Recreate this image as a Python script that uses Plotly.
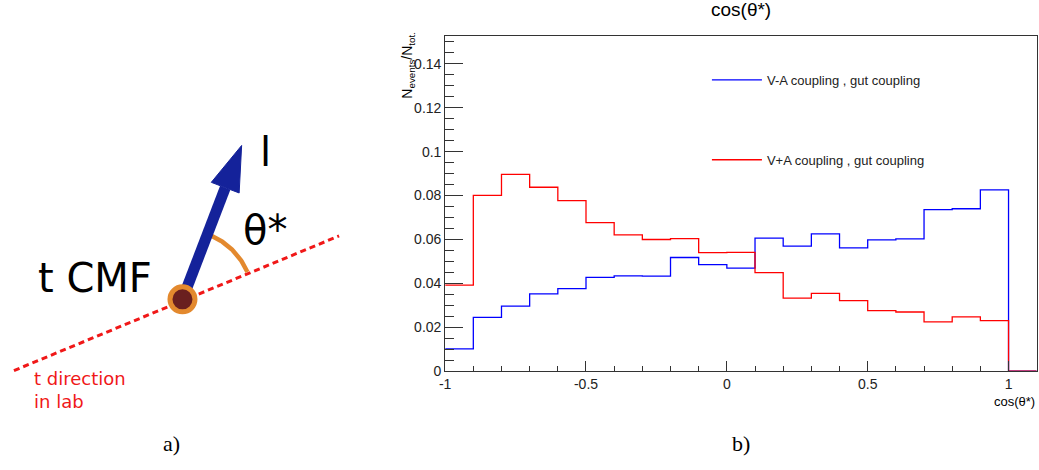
import numpy as np
import plotly.graph_objects as go

# ---------------- histogram data ----------------
bin_edges = [-1.0, -0.9, -0.8, -0.7, -0.6, -0.5, -0.4, -0.3, -0.2, -0.1, 0.0,
             0.1, 0.2, 0.3, 0.4, 0.5, 0.6, 0.7, 0.8, 0.9, 1.0, 1.1]
va_values = [0.0102, 0.0245, 0.0297, 0.0352, 0.0376, 0.0428, 0.0434, 0.0433, 0.0518, 0.0486,
             0.0470, 0.0606, 0.0570, 0.0626, 0.0562, 0.0598, 0.0603, 0.0736, 0.0740, 0.0826, 0.0]
vpa_values = [0.0392, 0.0801, 0.0897, 0.0838, 0.0777, 0.0677, 0.0621, 0.0600, 0.0604, 0.0540,
              0.0541, 0.0449, 0.0333, 0.0355, 0.0322, 0.0276, 0.0270, 0.0225, 0.0248, 0.0231, 0.0]
series_names = ["V-A coupling , gut coupling", "V+A coupling , gut coupling"]
x_tick_vals = [-1, -0.5, 0, 0.5, 1]
x_tick_text = ["-1", "-0.5", "0", "0.5", "1"]
y_tick_vals = [0, 0.02, 0.04, 0.06, 0.08, 0.10, 0.12, 0.14]
y_tick_text = ["0", "0.02", "0.04", "0.06", "0.08", "0.1", "0.12", "0.14"]

# ---------------- diagram (a) geometry, in picture pixels ----------------
lab_line_x = [8, 335]
lab_line_y = [377, 240]
cmf_point = (177.5, 304.5)
arrow_shaft_x = [177.5, 220.5]
arrow_shaft_y = [304.5, 191.0]
arrow_head_x = [237.0, 206.5, 234.5, 237.0]
arrow_head_y = [148.0, 185.5, 196.3, 148.0]
arc_radius = 71
arc_angles_deg = (23, 67)

W, H = 1039, 470
FONT = "Liberation Sans"
DIAG_FONT = "DejaVu Sans"

fig = go.Figure()

# histogram steps
step_x = bin_edges
fig.add_trace(go.Scatter(
    x=step_x, y=va_values + [va_values[-1]], mode="lines", line_shape="hv",
    line=dict(color="#0000ff", width=1.3), name=series_names[0],
    legendgroup="a", xaxis="x", yaxis="y"))
fig.add_trace(go.Scatter(
    x=step_x, y=vpa_values + [vpa_values[-1]], mode="lines", line_shape="hv",
    line=dict(color="#ff0000", width=1.3), name=series_names[1],
    legendgroup="b", xaxis="x", yaxis="y"))

# diagram traces on pixel axes x2/y2
fig.add_trace(go.Scatter(
    x=lab_line_x, y=lab_line_y, mode="lines",
    line=dict(color="#f01818", width=3, dash="6px,4px"),
    showlegend=False, xaxis="x2", yaxis="y2", hoverinfo="skip"))
ang = np.radians(np.linspace(arc_angles_deg[0], arc_angles_deg[1], 40))
fig.add_trace(go.Scatter(
    x=cmf_point[0] + arc_radius * np.cos(ang),
    y=cmf_point[1] - arc_radius * np.sin(ang), mode="lines",
    line=dict(color="#e3892e", width=4.5),
    showlegend=False, xaxis="x2", yaxis="y2", hoverinfo="skip"))
fig.add_trace(go.Scatter(
    x=arrow_shaft_x, y=arrow_shaft_y, mode="lines",
    line=dict(color="#14229a", width=11),
    showlegend=False, xaxis="x2", yaxis="y2", hoverinfo="skip"))
fig.add_trace(go.Scatter(
    x=arrow_head_x, y=arrow_head_y, mode="lines", fill="toself",
    fillcolor="#14229a", line=dict(color="#14229a", width=1),
    showlegend=False, xaxis="x2", yaxis="y2", hoverinfo="skip"))
fig.add_trace(go.Scatter(
    x=[cmf_point[0]], y=[cmf_point[1]], mode="markers",
    marker=dict(size=25, color="#6a1f1f", line=dict(color="#e3892e", width=5)),
    showlegend=False, xaxis="x2", yaxis="y2", hoverinfo="skip"))

ann = []
def px_ann(text, x, y, size, color="black", family=DIAG_FONT, xanchor="center",
           yanchor="middle", align="center", angle=0):
    ann.append(dict(text=text, x=x, y=y, xref="x2", yref="y2", showarrow=False,
                    font=dict(size=size, color=color, family=family),
                    xanchor=xanchor, yanchor=yanchor, align=align, textangle=angle))

px_ann("l", 261, 155, 40)
px_ann("θ*", 260, 234, 40)
px_ann("t CMF", 90, 283, 40)
px_ann("t direction<br>in lab", 26, 397, 18, color="#f01818", xanchor="left", align="left")
px_ann("a)", 166, 451, 22, family="Liberation Serif")
px_ann("b)", 739, 451, 22, family="Liberation Serif")
px_ann("cos(θ*)", 739.5, 10, 19, family=FONT)
px_ann("N<sub>events</sub>/N<sub>tot.</sub>", 404, 30, 14, family=FONT,
       yanchor="top", angle=-90)
px_ann("cos(θ*)", 1037, 399, 13, family=FONT, xanchor="right", yanchor="top")

x0, x1 = 441.7, 1036.7
y0, y1 = 37.0, 377.7

fig.update_layout(
    width=W, height=H, margin=dict(l=0, r=0, t=0, b=0),
    paper_bgcolor="white", plot_bgcolor="rgba(0,0,0,0)",
    font=dict(family=FONT, size=13, color="#222"),
    annotations=ann,
    showlegend=True,
    legend=dict(x=705 / W, y=1 - 66 / H, xanchor="left", yanchor="top",
                bgcolor="rgba(0,0,0,0)", font=dict(size=13, family=FONT, color="#222"),
                itemwidth=50, tracegroupgap=60, traceorder="grouped"),
    xaxis=dict(domain=[x0 / W, x1 / W], anchor="y", range=[-1, 1.1],
               showline=True, linecolor="#333", linewidth=1, mirror=True,
               showgrid=False, zeroline=False,
               ticks="inside", ticklen=10, tickcolor="#333",
               tickvals=x_tick_vals, ticktext=x_tick_text,
               minor=dict(dtick=0.1, tick0=0, ticks="inside", ticklen=5, tickcolor="#333"),
               tickfont=dict(size=14)),
    yaxis=dict(domain=[1 - y1 / H, 1 - y0 / H], anchor="x", range=[0, 0.1525],
               showline=True, linecolor="#333", linewidth=1, mirror=True,
               showgrid=False, zeroline=False,
               ticks="inside", ticklen=18, tickcolor="#333",
               tickvals=y_tick_vals, ticktext=y_tick_text,
               minor=dict(dtick=0.005, tick0=0, ticks="inside", ticklen=9, tickcolor="#333"),
               tickfont=dict(size=14)),
    xaxis2=dict(domain=[0, 1], anchor="y2", range=[0, W], visible=False, fixedrange=True),
    yaxis2=dict(domain=[0, 1], anchor="x2", range=[H, 0], visible=False, fixedrange=True),
)

fig.write_html("out.html", config={"displayModeBar": False},
               post_script="document.body.style.margin='0';")
